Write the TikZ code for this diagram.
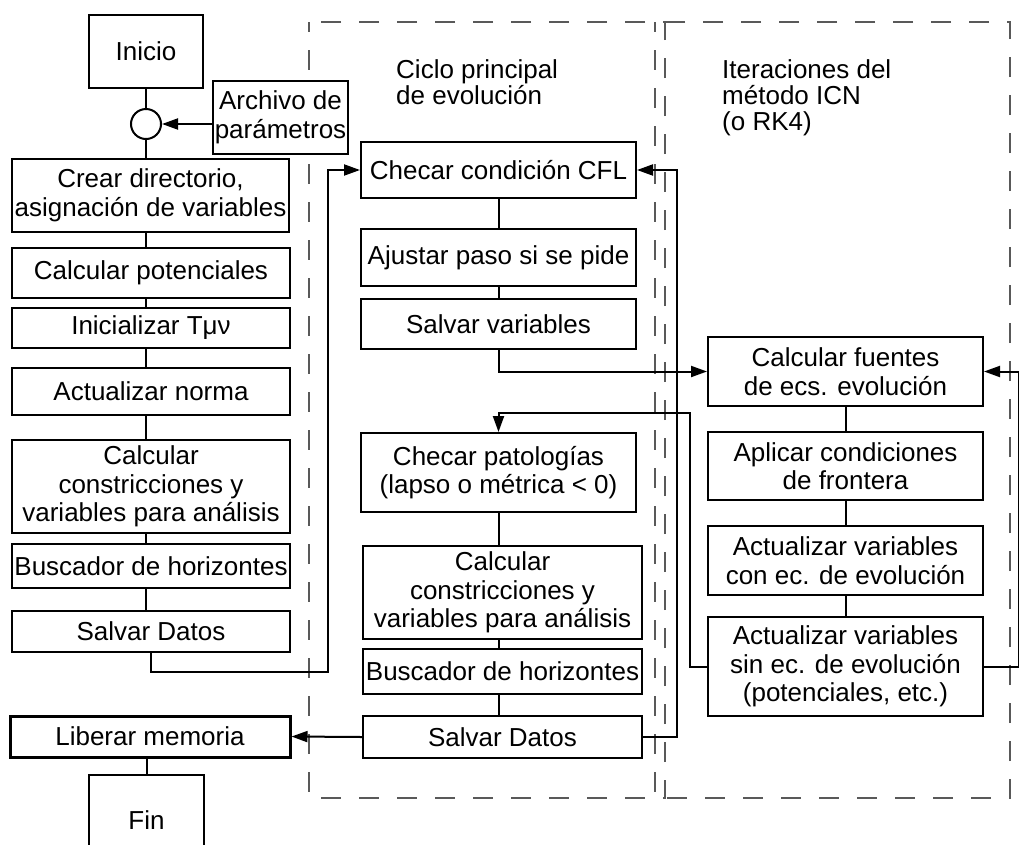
\documentclass[tikz,border=0pt]{standalone}
\usepackage{fontspec}
\setmainfont{Liberation Sans}
\usetikzlibrary{arrows.meta}

\tikzset{
  box/.style={draw, fill=white, line width=2pt, align=center, inner sep=0pt,
    font=\fontsize{26}{28.5}\selectfont},
  link/.style={line width=2pt},
  arr/.style={link, -{Triangle[length=16pt,width=11pt]}},
  frame/.style={draw=black!65, line width=1.4pt, dash pattern=on 20pt off 18pt, dash phase=10pt},
  label/.style={anchor=north west, align=left, inner sep=0pt,
    font=\fontsize{26}{26}\selectfont}
}

\begin{document}
\begin{tikzpicture}[x=1pt, y=-1pt]
  \clip (0,0) rectangle (1019,844);

  % Dashed frames of the two loops
  \draw [frame] (309,22) rectangle (665,798);
  \draw [frame] (655,22) rectangle (1010,798);
  \node [label] (lblciclo) at (396,59.4) {Ciclo principal\\de evolución};
  \node [label] (lbliter) at (722,59.4) {Iteraciones del\\método ICN\\(o RK4)};

  % Start, parameter file and set up
  \node [box, minimum width=114, minimum height=73] (ini) at (146,51.5) {Inicio};
  \node [draw, fill=white, circle, line width=2pt, minimum size=30, inner sep=0pt] (circ) at (146,124) {};
  \node [box, minimum width=135, minimum height=73] (arch) at (280.5,117.5) {Archivo de\\parámetros};
  \node [box, minimum width=277, minimum height=73] (crear) at (150.5,195.5) {Crear directorio,\\asignación de variables};
  \node [box, minimum width=278, minimum height=50] (pot) at (151,272.5) {Calcular potenciales};
  \node [box, minimum width=278, minimum height=40] (tmn) at (151,328) {Inicializar Tμν};
  \node [box, minimum width=278, minimum height=47] (norma) at (151,391.5) {Actualizar norma};
  \node [box, minimum width=278, minimum height=93] (constr) at (151,486.5) {Calcular\\constricciones y\\variables para análisis};
  \node [box, minimum width=278, minimum height=44] (busc) at (151,566) {Buscador de horizontes};
  \node [box, minimum width=278, minimum height=41] (salv) at (151,631.5) {Salvar Datos};
  \node [box, line width=3pt, minimum width=280, minimum height=41] (lib) at (150,736.5) {Liberar memoria};
  \node [box, minimum width=115, minimum height=90] (fin) at (146.5,820) {Fin};

  % Main evolution loop
  \node [box, minimum width=275, minimum height=56] (cfl) at (498.5,170) {Checar condición CFL};
  \node [box, minimum width=275, minimum height=57] (ajus) at (498.5,257.5) {Ajustar paso si se pide};
  \node [box, minimum width=275, minimum height=50] (svar) at (498.5,324) {Salvar variables};
  \node [box, minimum width=275, minimum height=79] (pat) at (498.5,472.5) {Checar patologías\\(lapso o métrica < 0)};
  \node [box, minimum width=279, minimum height=93] (constr2) at (502.5,592.5) {Calcular\\constricciones y\\variables para análisis};
  \node [box, minimum width=279, minimum height=45] (busc2) at (502.5,671.5) {Buscador de horizontes};
  \node [box, minimum width=279, minimum height=42] (salv2) at (502.5,737) {Salvar Datos};

  % ICN iterations
  \node [box, minimum width=275, minimum height=69] (fuen) at (845.5,371.5) {Calcular fuentes\\de ecs. evolución};
  \node [box, minimum width=275, minimum height=68] (apl) at (845.5,466) {Aplicar condiciones\\de frontera};
  \node [box, minimum width=275, minimum height=69] (acon) at (845.5,560.5) {Actualizar variables\\con ec. de evolución};
  \node [box, minimum width=275, minimum height=99] (asin) at (845.5,666.5) {Actualizar variables\\sin ec. de evolución\\(potenciales, etc.)};

  % Corners of the return lines
  \coordinate (lp1) at (328,672);
  \coordinate (lp2) at (690,413);
  \coordinate (lp3) at (677,170);
  \coordinate (lp4) at (1019,371.5);

  % Drawing the connectors
  \draw [link] (ini) -- (circ);
  \draw [arr] (circ.east -| arch.west) -- (circ.east);
  \draw [link] (circ.south) -- (circ.south |- crear.north);
  \foreach \a/\b in {crear/pot, pot/tmn, tmn/norma, norma/constr, constr/busc, busc/salv}
    \draw [link] (\a.south -| ini) -- (\b.north -| ini);
  \draw [arr] (salv.south) |- (lp1) |- (cfl.west);
  \draw [link] (lib.south -| fin) -- (fin.north);

  \foreach \a/\b in {cfl/ajus, ajus/svar}
    \draw [link] (\a) -- (\b);
  \draw [arr] (svar.south) |- (fuen.west);
  \foreach \a/\b in {pat/constr2, constr2/busc2, busc2/salv2}
    \draw [link] (\a.south -| cfl) -- (\b.north -| cfl);
  \draw [arr] (salv2.west) -- (lib.east);
  \draw [arr] (salv2.east) -| (lp3) -- (cfl.east);

  \foreach \a/\b in {fuen/apl, apl/acon, acon/asin}
    \draw [link] (\a) -- (\b);
  \draw [arr] (asin.west) -| (lp2) -| (pat.north);
  \draw [arr] (asin.east) -| (lp4) -- (fuen.east);
\end{tikzpicture}
\end{document}
